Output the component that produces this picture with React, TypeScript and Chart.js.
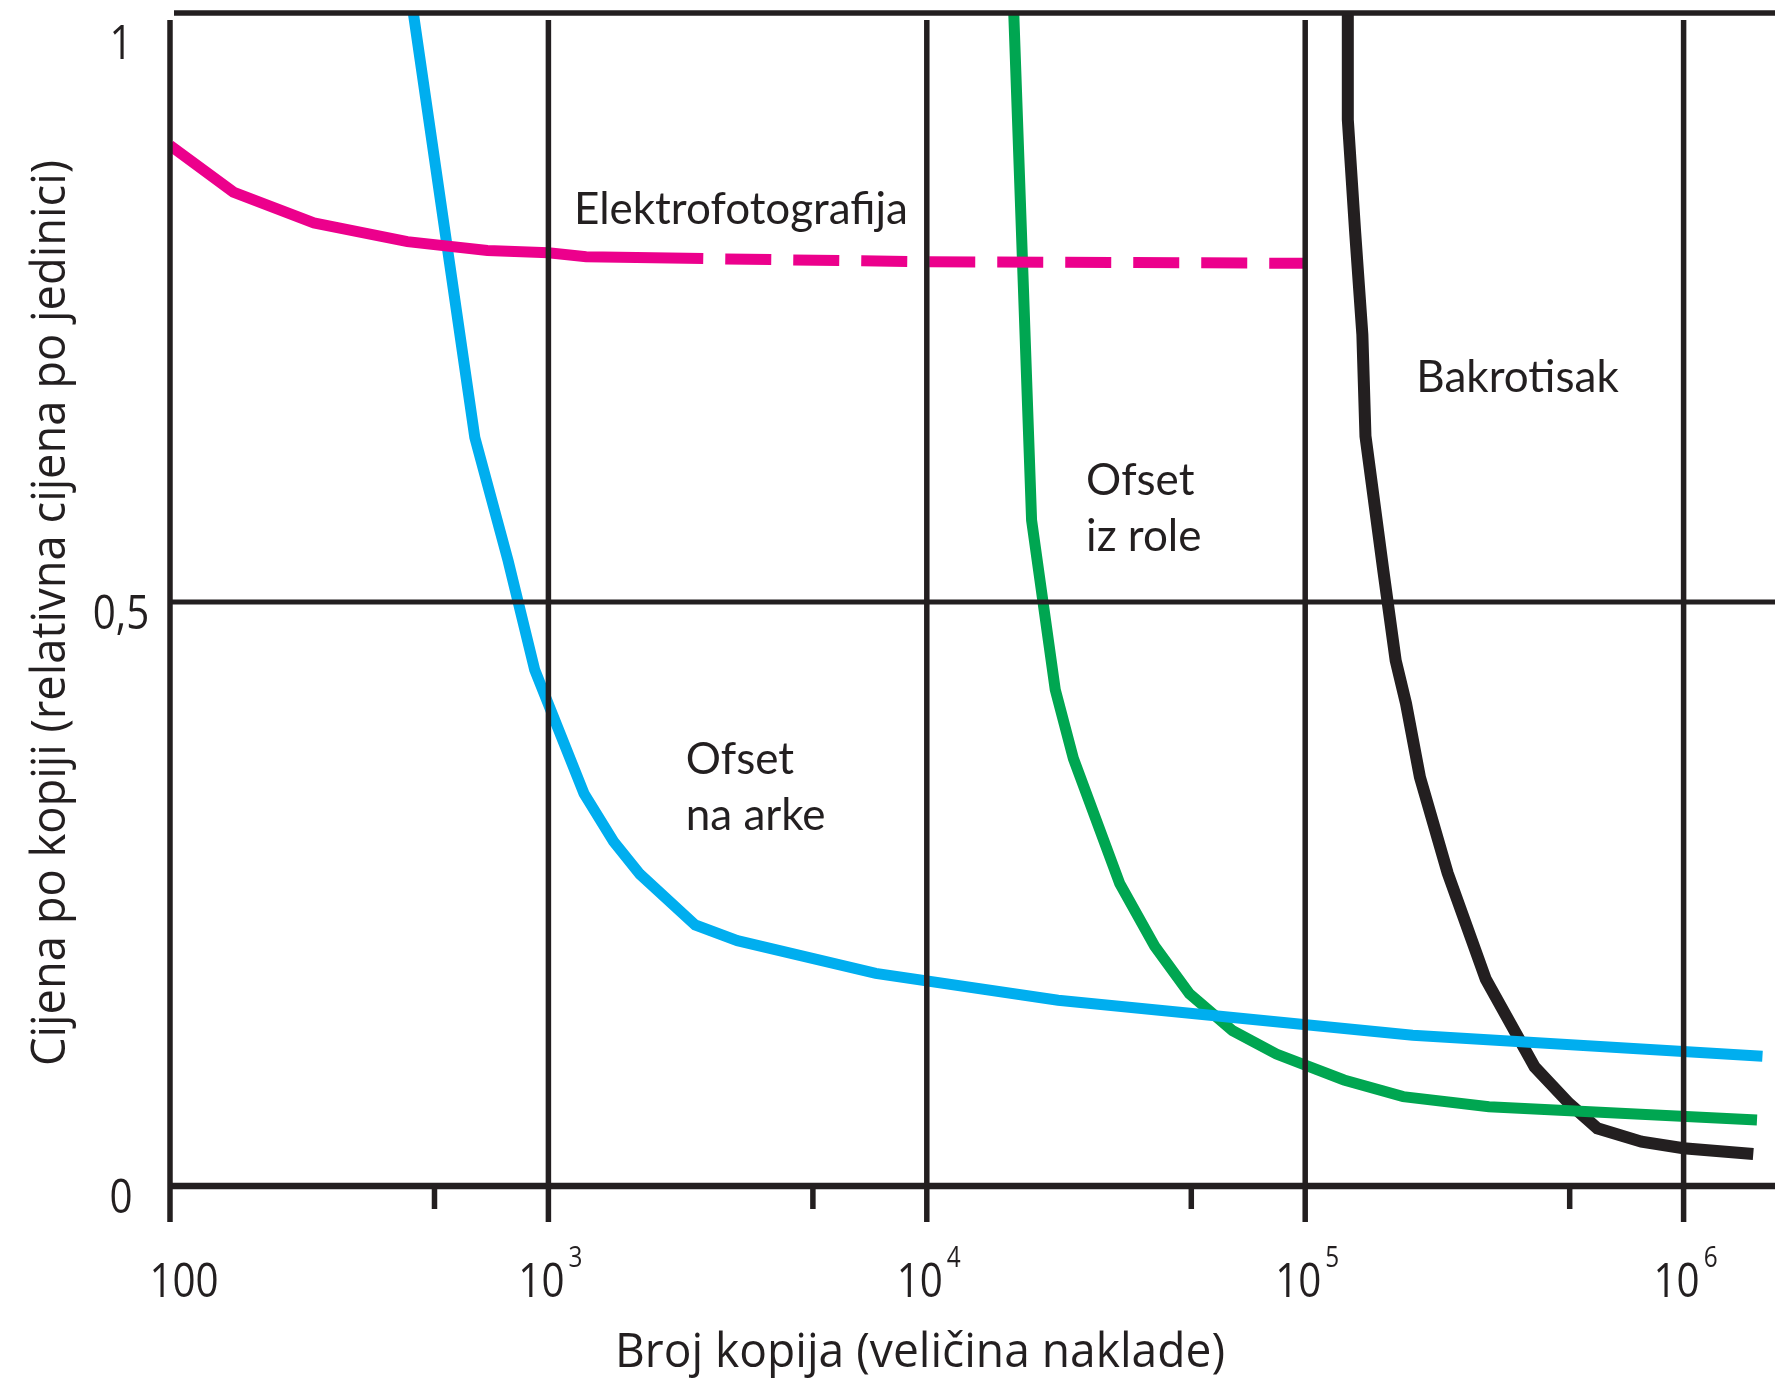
import React, { useEffect, useRef } from 'react';
import { Chart, registerables } from 'chart.js';

Chart.register(...registerables);

// ---- data (x = broj kopija, y = relativna cijena po jedinici) ----
const elektroSolidX = [100, 147, 240, 424, 690, 1000, 1258, 2566];
const elektroSolidY = [0.891, 0.851, 0.8245, 0.8085, 0.801, 0.799, 0.7956, 0.794];
const elektroDashedX = [2566, 10000, 100000];
const elektroDashedY = [0.794, 0.7913, 0.79];

const arkeX = [437, 639, 783, 920, 1242, 1486, 1745, 2443, 3158, 7330, 22230, 192300, 1616000];
const arkeY = [1.01, 0.641, 0.535, 0.442, 0.336, 0.295, 0.267, 0.2235, 0.21, 0.182, 0.159, 0.129, 0.111];

const roleX = [16950, 18920, 21850, 24400, 32340, 39990, 49430, 64270, 83950, 126600, 181500, 305800, 1563000];
const roleY = [1.01, 0.57, 0.425, 0.366, 0.259, 0.2055, 0.1646, 0.133, 0.113, 0.0908, 0.0765, 0.0679, 0.0565];

const bakroX = [129600, 129600, 135500, 141600, 144300, 161000, 173400, 184700, 201000, 237900, 300100, 404000, 497700, 591600, 773900, 998600, 1528000];
const bakroY = [1.01, 0.913, 0.817, 0.729, 0.642, 0.526, 0.45, 0.413, 0.35, 0.268, 0.177, 0.102, 0.0708, 0.0494, 0.0379, 0.0323, 0.0274];

const xMajorTicks = [100, 1000, 10000, 100000, 1000000];
const xMinorTicks = [500, 5000, 50000, 500000];
const xTickBase = ['100', '10', '10', '10', '10'];
const xTickExp = ['', '3', '4', '5', '6'];
const yTicks = [0, 0.5, 1];
const yTickLabels = ['0', '0,5', '1'];

const annotationTexts = [['Elektrofotografija'], ['Ofset', 'na arke'], ['Ofset', 'iz role'], ['Bakrotisak']];
const annotationX = [1168, 2306, 26360, 196700];
const annotationY = [0.824, 0.353, 0.592, 0.68];

const xTitle = 'Broj kopija (veličina naklade)';
const yTitle = 'Cijena po kopiji (relativna cijena po jedinici)';

// ---- styles ----
const INK = '#231f20';
const MAGENTA = '#ec008c';
const CYAN = '#00aeef';
const GREEN = '#00a651';
const LABEL_FONT = '"Open Sans", "Noto Sans", sans-serif';
const NOTE_FONT = 'Lato, "Open Sans", sans-serif';

const zip = (xs: number[], ys: number[]) => xs.map((x, i) => ({ x, y: ys[i] }));

function drawText(ctx: CanvasRenderingContext2D, text: string, x: number, y: number, font: string, align: CanvasTextAlign, sx: number) {
  ctx.save();
  ctx.font = font;
  ctx.textAlign = align;
  ctx.textBaseline = 'alphabetic';
  ctx.translate(x, y);
  ctx.scale(sx, 1);
  ctx.fillText(text, 0, 0);
  ctx.restore();
}

const framePlugin = {
  id: 'frame',
  afterDatasetsDraw(chart: any) {
    const { ctx, chartArea } = chart;
    const xs = chart.scales.x;
    const ys = chart.scales.y;
    const W = chart.width;
    const { left, top, bottom } = chartArea;
    ctx.save();
    ctx.strokeStyle = INK;
    ctx.fillStyle = INK;
    ctx.lineCap = 'butt';

    const line = (x1: number, y1: number, x2: number, y2: number, w: number) => {
      ctx.beginPath();
      ctx.lineWidth = w;
      ctx.moveTo(x1, y1);
      ctx.lineTo(x2, y2);
      ctx.stroke();
    };

    // top frame line
    line(left + 4, top - 5, W, top - 5, 5.5);
    // horizontal lines
    line(left, ys.getPixelForValue(0.5), W, ys.getPixelForValue(0.5), 5);
    line(left, ys.getPixelForValue(0), W, ys.getPixelForValue(0), 6.5);
    // vertical major lines (incl. left axis), extending below axis as ticks
    xMajorTicks.forEach((v) => {
      const px = xs.getPixelForValue(v);
      line(px, top + 2, px, bottom + 36, 5.5);
    });
    // minor ticks
    xMinorTicks.forEach((v) => {
      const px = xs.getPixelForValue(v);
      line(px, bottom, px, bottom + 23, 5.5);
    });

    // x tick labels
    const sxLab = 0.84;
    const baseFont = `48px ${LABEL_FONT}`;
    const supFont = `29px ${LABEL_FONT}`;
    const by = bottom + 111;
    xMajorTicks.forEach((v, i) => {
      const px = xs.getPixelForValue(v);
      if (!xTickExp[i]) {
        drawText(ctx, xTickBase[i], px + 14, by, baseFont, 'center', sxLab);
      } else {
        ctx.font = baseFont;
        const w = ctx.measureText(xTickBase[i]).width * sxLab;
        const l = px - 7 - w / 2;
        drawText(ctx, xTickBase[i], l, by, baseFont, 'left', sxLab);
        drawText(ctx, xTickExp[i], l + w + 4, by - 30, supFont, 'left', sxLab);
      }
    });

    // y tick labels
    yTicks.forEach((v, i) => {
      const py = ys.getPixelForValue(v);
      drawText(ctx, yTickLabels[i], left - 49, Math.max(py + 27, top + 41), baseFont, 'center', sxLab);
    });

    // axis titles
    const titleFont = `48px ${LABEL_FONT}`;
    ctx.font = titleFont;
    const xtw = ctx.measureText(xTitle).width;
    drawText(ctx, xTitle, 920, 1367, titleFont, 'center', 610 / xtw);
    const ytw = ctx.measureText(yTitle).width;
    ctx.save();
    ctx.translate(65, 613);
    ctx.rotate(-Math.PI / 2);
    drawText(ctx, yTitle, 0, 0, titleFont, 'center', 906 / ytw);
    ctx.restore();

    // curve annotations
    const noteFont = `44px ${NOTE_FONT}`;
    annotationTexts.forEach((lines, i) => {
      const ax = xs.getPixelForValue(annotationX[i]);
      const ay = ys.getPixelForValue(annotationY[i]);
      lines.forEach((t, j) => {
        drawText(ctx, t, ax, ay + j * 56, noteFont, 'left', 1);
      });
    });

    ctx.restore();
  },
};

export default function App() {
  const canvasRef = useRef<HTMLCanvasElement | null>(null);

  useEffect(() => {
    document.body.style.margin = '0';
    const canvas = canvasRef.current;
    if (!canvas) return;
    const common = { pointRadius: 0, tension: 0, fill: false, clip: { left: 0, top: 4, right: 0, bottom: 0 } };
    const chart = new Chart(canvas, {
      type: 'line',
      data: {
        datasets: [
          { ...common, label: 'Elektrofotografija', data: zip(elektroSolidX, elektroSolidY), borderColor: MAGENTA, borderWidth: 11 },
          { ...common, label: 'Elektrofotografija (nastavak)', data: zip(elektroDashedX, elektroDashedY), borderColor: MAGENTA, borderWidth: 11, borderDash: [46, 22], borderDashOffset: 46 },
          { ...common, label: 'Ofset na arke', data: zip(arkeX, arkeY), borderColor: CYAN, borderWidth: 11 },
          { ...common, label: 'Ofset iz role', data: zip(roleX, roleY), borderColor: GREEN, borderWidth: 11 },
          { ...common, label: 'Bakrotisak', data: zip(bakroX, bakroY), borderColor: INK, borderWidth: 12 },
        ] as any,
      },
      options: {
        responsive: false,
        animation: false,
        events: [],
        layout: { padding: { left: 170, right: 0, top: 18, bottom: 192 } },
        scales: {
          x: { type: 'logarithmic', min: 100, max: 1744000, display: false },
          y: { type: 'linear', min: 0, max: 1, display: false },
        },
        plugins: { legend: { display: false }, tooltip: { enabled: false } },
      },
      plugins: [framePlugin],
    });
    return () => chart.destroy();
  }, []);

  return (
    <div style={{ width: 1775, height: 1378, background: '#fff' }}>
      <canvas ref={canvasRef} width={1775} height={1378} style={{ display: 'block' }} />
    </div>
  );
}
